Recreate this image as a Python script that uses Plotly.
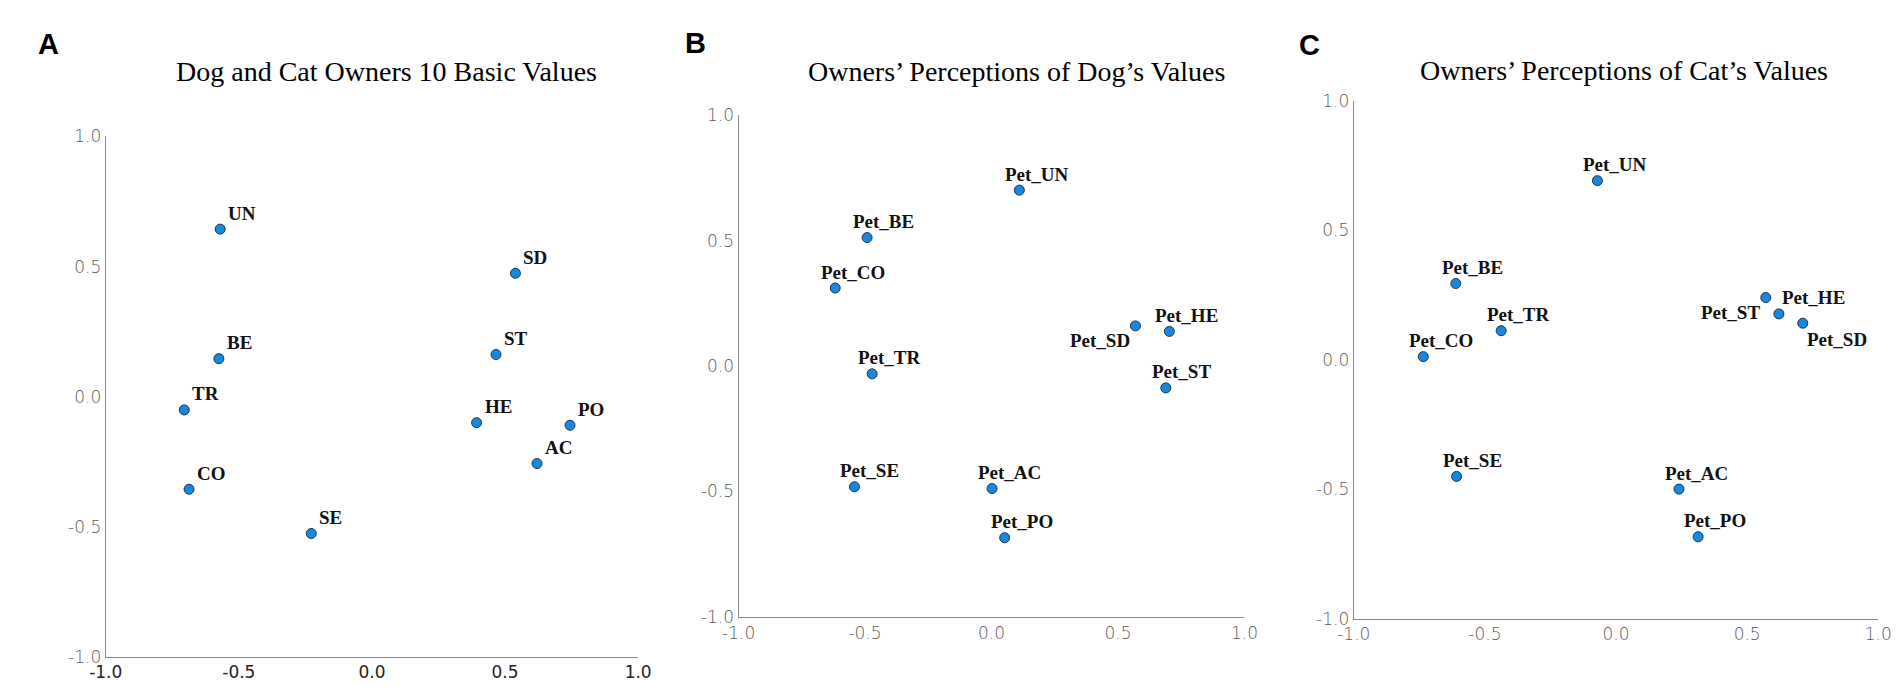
import plotly.graph_objects as go

W, H = 1904, 687

# panel A: owners' own values
labels_a = ["UN", "SD", "BE", "ST", "TR", "HE", "PO", "AC", "CO", "SE"]
x_a = [-0.570, 0.539, -0.575, 0.466, -0.705, 0.393, 0.744, 0.620, -0.687, -0.228]
y_a = [0.644, 0.474, 0.146, 0.162, -0.051, -0.100, -0.110, -0.257, -0.356, -0.526]

# panel B: perceptions of dog's values
labels_b = ["Pet_UN", "Pet_BE", "Pet_CO", "Pet_SD", "Pet_HE", "Pet_TR", "Pet_ST", "Pet_SE", "Pet_AC", "Pet_PO"]
x_b = [0.110, -0.492, -0.618, 0.569, 0.703, -0.472, 0.689, -0.542, 0.002, 0.052]
y_b = [0.701, 0.512, 0.311, 0.160, 0.138, -0.031, -0.087, -0.481, -0.488, -0.684]

# panel C: perceptions of cat's values
labels_c = ["Pet_UN", "Pet_BE", "Pet_ST", "Pet_HE", "Pet_SD", "Pet_TR", "Pet_CO", "Pet_SE", "Pet_AC", "Pet_PO"]
x_c = [-0.071, -0.611, 0.571, 0.621, 0.712, -0.438, -0.735, -0.608, 0.240, 0.313]
y_c = [0.691, 0.294, 0.240, 0.177, 0.141, 0.112, 0.012, -0.450, -0.499, -0.683]

titles = ["Dog and Cat Owners 10 Basic Values",
          "Owners\u2019 Perceptions of Dog\u2019s Values",
          "Owners\u2019 Perceptions of Cat\u2019s Values"]
letters = ["A", "B", "C"]
tick_vals = [-1.0, -0.5, 0.0, 0.5, 1.0]
tick_text = ["-1.0", "-0.5", "0.0", "0.5", "1.0"]

# pixel boxes of the plot areas (left, right, top, bottom)
boxes = [(82, 623, 122, 658), (725, 1239, 100, 617), (1350, 1883, 85, 619)]
title_pos = [(367, 55), (1007, 55), (1625, 54)]
letter_pos = [(24, 27), (681, 26), (1305, 28)]

# default label offset per panel (xanchor, xshift, yshift), plus exceptions
label_default = [("left", 6, 16), ("left", -16, 16), ("left", -16, 16)]
label_special = [
    {},
    {"Pet_SD": ("right", -3, -15)},
    {"Pet_ST": ("right", -4, -15), "Pet_SD": ("left", 2, -16), "Pet_HE": ("left", 1, 16)},
]

fig = go.Figure()
annotations = []
panels = [(labels_a, x_a, y_a), (labels_b, x_b, y_b), (labels_c, x_c, y_c)]
layout_axes = {}

for i, (labs, xs, ys) in enumerate(panels):
    n = "" if i == 0 else str(i + 1)
    fig.add_trace(go.Scatter(
        x=xs, y=ys, mode="markers", xaxis="x" + n, yaxis="y" + n,
        marker=dict(size=10, color="#1788e0", line=dict(color="#1d3550", width=1)),
        showlegend=False, hoverinfo="text", text=labs))

    l, r, t, b = boxes[i]
    # panel A has darker x tick labels in the original
    if i == 0:
        xfont = dict(family="DejaVu Sans", size=17, color="#222222")
    else:
        xfont = dict(family="DejaVu Sans", size=17, color="#5a5a5a", weight=200)
    layout_axes["xaxis" + n] = dict(
        domain=[l / W, r / W], anchor="y" + n, range=[-1.0001, 1.0001],
        tickvals=tick_vals, ticktext=tick_text, showgrid=False, zeroline=False,
        showline=True, linecolor="#8a8a8a", linewidth=1.2, ticks="",
        tickfont=xfont)
    layout_axes["yaxis" + n] = dict(
        domain=[1 - b / H, 1 - t / H], anchor="x" + n, range=[-1.0001, 1.0001],
        tickvals=tick_vals, ticktext=tick_text, showgrid=False, zeroline=False,
        showline=True, linecolor="#8a8a8a", linewidth=1.2, ticks="",
        tickfont=dict(family="DejaVu Sans", size=17, color="#5a5a5a", weight=200))

    for lab, xv, yv in zip(labs, xs, ys):
        anchor, dx, dy = label_special[i].get(lab, label_default[i])
        annotations.append(dict(
            x=xv, y=yv, xref="x" + n, yref="y" + n, text="<b>%s</b>" % lab,
            showarrow=False, xanchor=anchor, yanchor="middle", xshift=dx, yshift=dy,
            font=dict(family="Liberation Serif", size=19, color="#111111")))

    tx, ty = title_pos[i]
    annotations.append(dict(
        x=tx / W, y=1 - ty / H, xref="paper", yref="paper", text=titles[i],
        showarrow=False, xanchor="center", yanchor="middle",
        font=dict(family="Liberation Serif", size=28, color="#000000")))

    lx, ly = letter_pos[i]
    annotations.append(dict(
        x=lx / W, y=1 - ly / H, xref="paper", yref="paper", text="<b>%s</b>" % letters[i],
        showarrow=False, xanchor="center", yanchor="middle",
        font=dict(family="Liberation Sans", size=29, color="#000000")))

fig.update_layout(
    width=W, height=H, margin=dict(l=0, r=0, t=0, b=0),
    paper_bgcolor="white", plot_bgcolor="white",
    annotations=annotations, **layout_axes)

fig.write_html("out.html")
